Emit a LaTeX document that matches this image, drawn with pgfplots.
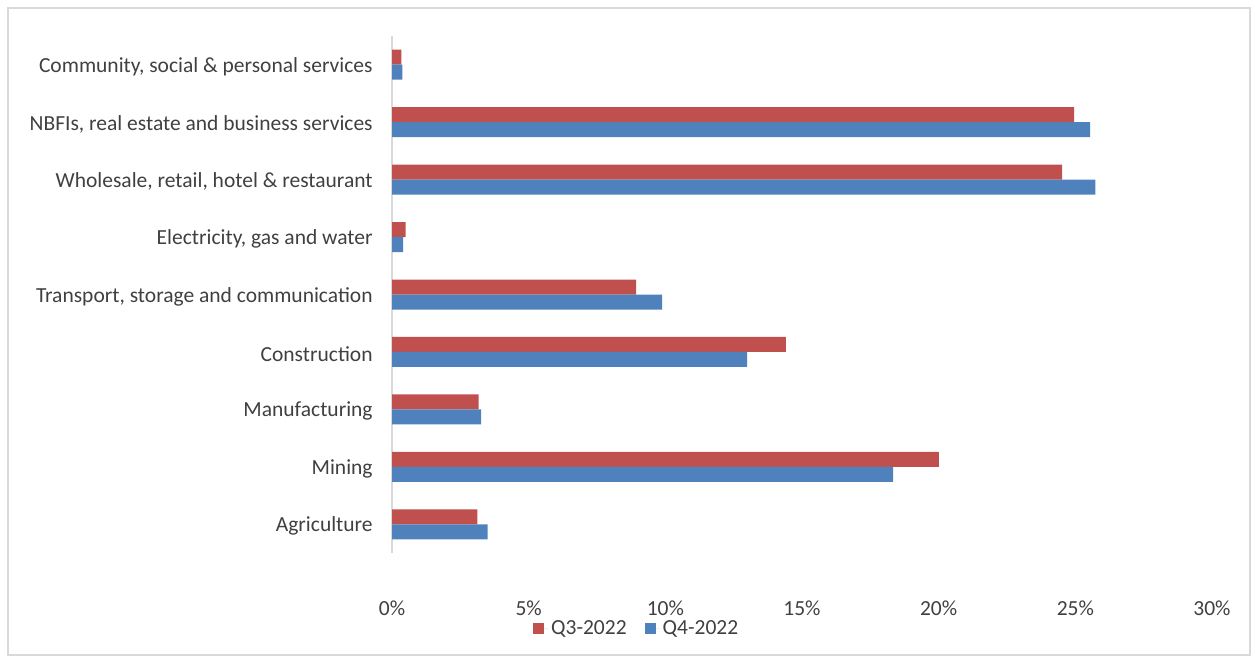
\documentclass[border=0pt]{standalone}
\usepackage{fontspec}
\setmainfont{Carlito}
\usepackage{pgfplots}
\pgfplotsset{compat=1.18}
\definecolor{qred}{HTML}{C0504D}
\definecolor{qblue}{HTML}{4F81BD}
\definecolor{txt}{HTML}{404040}
\definecolor{framec}{HTML}{D9D9D9}
\begin{document}
\fontsize{21.5pt}{26pt}\selectfont
\begin{tikzpicture}
\path[use as bounding box] (0pt,0pt) rectangle (1255pt,658pt);
\draw[framec, line width=1.5pt] (8pt,3pt) rectangle (1250pt,650pt);
\begin{axis}[
  at={(392pt,105pt)}, anchor=south west, scale only axis,
  width=820pt, height=517pt,
  xmin=0, xmax=30, ymin=-0.5, ymax=8.5,
  xbar, bar width=15pt,
  ytick={0,...,8},
  yticklabels={Agriculture, Mining, Manufacturing, Construction, {Transport, storage and communication}, {Electricity, gas and water}, {Wholesale, retail, hotel \& restaurant}, {NBFIs, real estate and business services}, {Community, social \& personal services}},
  xtick={0,5,...,30},
  xticklabel={\pgfmathprintnumber{\tick}\%},
  /pgf/number format/assume math mode=true,
  axis lines*=left,
  x axis line style={draw=none},
  y axis line style={draw=framec, line width=2pt},
  major tick length=0pt,
  tick label style={text=txt, font=\fontsize{21.5pt}{26pt}\selectfont},
  xticklabel style={yshift=-40pt},
  yticklabel style={xshift=-12pt, yshift=-2pt},
  legend columns=2,
  legend style={at={(0.299,-0.147)}, anchor=center, draw=none, fill=none,
    font=\fontsize{21.5pt}{26pt}\selectfont, text=txt,
    nodes={inner sep=3pt},
    /tikz/every even column/.append style={column sep=15pt}},
  legend image code/.code={\fill[#1] (0pt,-5.5pt) rectangle (11pt,5.5pt); \path (0pt,0pt) -- (15pt,0pt);},
]
\addplot[fill=qred, draw=none, bar shift=7.5pt] coordinates {(3.12,0) (20.01,1) (3.17,2) (14.41,3) (8.93,4) (0.50,5) (24.52,6) (24.96,7) (0.34,8)};
\addplot[fill=qblue, draw=none, bar shift=-7.5pt] coordinates {(3.50,0) (18.33,1) (3.26,2) (12.99,3) (9.88,4) (0.41,5) (25.73,6) (25.54,7) (0.38,8)};
\legend{Q3-2022, Q4-2022}
\end{axis}
\end{tikzpicture}
\end{document}
